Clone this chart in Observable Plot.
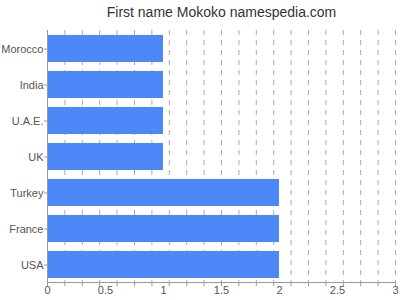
<!DOCTYPE html>
<html>
<head>
<meta charset="utf-8">
<script src="https://cdn.jsdelivr.net/npm/d3@7"></script>
<script src="https://cdn.jsdelivr.net/npm/@observablehq/plot@0.6"></script>
<style>
  html, body { margin: 0; padding: 0; background: #fff; }
  #chart svg { display: block; font-family: Arial, "Liberation Sans", sans-serif; }
</style>
</head>
<body>
<div id="chart"></div>
<script>
const titleText = "First name Mokoko namespedia.com";
const categories = ["Morocco", "India", "U.A.E.", "UK", "Turkey", "France", "USA"];
const values = [1, 1, 1, 1, 2, 2, 2];
const labelTicks = [0, 0.5, 1, 1.5, 2, 2.5, 3];
const minorTicks = [0.15, 0.3, 0.45, 0.6, 0.75, 0.9, 1.05, 1.2, 1.35, 1.5, 1.65, 1.8, 1.95, 2.1, 2.25, 2.4, 2.55, 2.7, 2.85, 3];
const tickMarks = [0, ...minorTicks];

const data = categories.map((c, i) => ({name: c, value: values[i]}));

const chart = Plot.plot({
  width: 400,
  height: 300,
  marginTop: 30,
  marginBottom: 18,
  marginLeft: 47,
  marginRight: 5,
  style: {fontFamily: "Arial, 'Liberation Sans', sans-serif", fontSize: "11px", color: "#555"},
  x: {domain: [0, 3], label: null},
  y: {domain: categories, paddingInner: 0.25, paddingOuter: 0.125, label: null},
  marks: [
    Plot.ruleX(minorTicks, {stroke: "#aaa", strokeDasharray: "5,5", strokeWidth: 1}),
    Plot.barX(data, {x: "value", y: "name", fill: "#4d88f9"}),
    Plot.ruleX([0], {stroke: "#999"}),
    Plot.frame({anchor: "bottom", stroke: "#999"}),
    Plot.axisX({ticks: tickMarks, tickSize: 4, tickFormat: () => "", stroke: "#999", label: null}),
    Plot.axisX({ticks: labelTicks, tickSize: 0, tickPadding: 4, tickFormat: d => String(d), fill: "#555", fontSize: 11, label: null}),
    Plot.axisY({tickSize: 3, tickPadding: 1, stroke: "#999", fill: "#555", fontSize: 11, label: null}),
    Plot.text([titleText], {frameAnchor: "top", dy: -18, fontSize: 14, fill: "#333", lineAnchor: "middle"})
  ]
});
document.getElementById("chart").appendChild(chart);
</script>
</body>
</html>
